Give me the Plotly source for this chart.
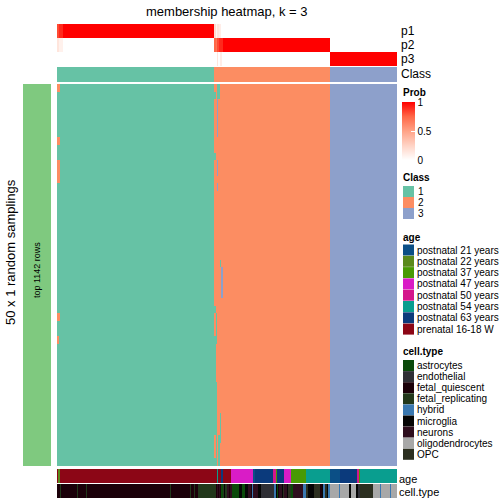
import plotly.graph_objects as go

W = H = 504
FONT = "Liberation Sans, Arial, Helvetica, sans-serif"

# ---------------- data ----------------
N_COLS = 340
N_ROWS = 50

class_labels = ["1", "2", "3"]
class_colors = ["#66C2A5", "#FC8D62", "#8DA0CB"]
class_runs = [(1, 157), (2, 116), (3, 67)]

# membership probabilities (value, run length) per column
p1_runs = [(0.82, 2), (0.9, 4), (1.0, 151), (0.2, 2), (0.05, 1), (0.15, 2), (0.1, 2), (0.0, 176)]
p2_runs = [(0.15, 2), (0.08, 4), (0.0, 151), (0.75, 2), (0.7, 1), (0.82, 2), (0.9, 4), (1.0, 107), (0.0, 67)]
p3_runs = [(0.0, 160), (0.15, 1), (0.0, 2), (0.1, 2), (0.0, 108), (1.0, 67)]

# deviations of individual samplings from the consensus class: (row_from, row_to, col_from, col_to, class)
main_deviations = [
    (0, 0, 0, 2, 2), (0, 1, 160, 162, 1), (1, 1, 157, 158, 1),
    (2, 6, 160, 160, 3), (7, 7, 0, 2, 2), (9, 9, 157, 158, 1),
    (10, 11, 160, 160, 3), (10, 12, 0, 2, 2), (13, 13, 160, 160, 3),
    (23, 23, 163, 163, 1), (24, 27, 164, 165, 3), (29, 29, 157, 158, 1),
    (30, 32, 159, 159, 1), (30, 30, 0, 2, 2), (33, 33, 157, 159, 1),
    (33, 33, 0, 1, 2), (34, 38, 157, 158, 1), (39, 45, 157, 159, 1),
    (43, 46, 163, 163, 1), (46, 48, 159, 159, 1), (46, 49, 161, 162, 1),
    (49, 49, 157, 159, 1),
]

age_labels = ["postnatal 21 years", "postnatal 22 years", "postnatal 37 years",
              "postnatal 47 years", "postnatal 50 years", "postnatal 54 years",
              "postnatal 63 years", "prenatal 16-18 W"]
age_colors = ["#0B4F86", "#5A8A1C", "#489A04", "#D91CC6", "#D4168C", "#099E8F",
              "#0B3A7C", "#8C0616"]
age_runs = [(7, 1), (1, 2), (7, 157), (5, 1), (7, 3), (6, 2), (7, 8), (3, 22), (0, 2),
            (6, 18), (4, 3), (2, 1), (6, 7), (3, 7), (2, 15), (5, 24), (0, 10), (6, 17),
            (4, 2), (2, 1), (5, 37)]

cell_labels = ["astrocytes", "endothelial", "fetal_quiescent", "fetal_replicating",
               "hybrid", "microglia", "neurons", "oligodendrocytes", "OPC"]
cell_colors = ["#0A4A0A", "#2F2F35", "#1B0009", "#22381B", "#3A78B0", "#050505",
               "#2E0E1E", "#A8A8A8", "#2C2F20"]
cell_runs = [(2, 3), (3, 1), (2, 16), (3, 1), (2, 8), (3, 1), (2, 83), (3, 1), (2, 19),
             (3, 1), (2, 3), (3, 1), (2, 3), (3, 18), (2, 1), (6, 1), (2, 1), (6, 1),
             (2, 1), (0, 2), (3, 1), (5, 1), (3, 2), (6, 2), (2, 1), (6, 2), (0, 7),
             (5, 3), (0, 3), (5, 3), (6, 3), (2, 1), (4, 1), (6, 5), (5, 3), (1, 13),
             (4, 2), (5, 1), (0, 1), (2, 1), (6, 3), (5, 1), (8, 1), (6, 3), (5, 1),
             (8, 2), (3, 1), (0, 2), (6, 10), (4, 3), (8, 2), (5, 6), (8, 6), (2, 2),
             (5, 1), (4, 2), (8, 2), (5, 1), (4, 2), (7, 9), (4, 1), (7, 9), (5, 2),
             (7, 5), (5, 2), (1, 2), (8, 13), (7, 7), (4, 1), (7, 9), (4, 1), (7, 6)]

title_text = "membership heatmap, k = 3"
row_title = "50 x 1 random samplings"
slice_title = "top 1142 rows"


# ---------------- helpers ----------------
def expand(runs):
    out = []
    for v, n in runs:
        out.extend([v] * n)
    return out


def discrete_scale(colors):
    n = len(colors)
    sc = []
    for i, c in enumerate(colors):
        sc.append([i / n, c])
        sc.append([(i + 1) / n, c])
    return sc


def X(px):
    return px / W


def Y(py):
    return 1 - py / H


p1 = expand(p1_runs)
p2 = expand(p2_runs)
p3 = expand(p3_runs)
cls = expand(class_runs)
age = expand(age_runs)
cell = expand(cell_runs)

main = [list(cls) for _ in range(N_ROWS)]
for r0, r1, c0, c1, k in main_deviations:
    for r in range(r0, r1 + 1):
        for c in range(c0, c1 + 1):
            main[r][c] = k

cols = list(range(N_COLS))
prob_scale = [[0, "#FFFFFF"], [0.25, "#FFD3C5"], [0.5, "#FFA286"],
              [0.75, "#FF6747"], [1, "#FF0000"]]

fig = go.Figure()

X0, X1 = 57, 397
# (name, top, bottom)
panels = [("prob", 24, 66), ("class", 67, 82), ("main", 84, 466),
          ("age", 469, 483), ("cell", 484, 498)]

for i, (name, top, bot) in enumerate(panels):
    sfx = "" if i == 0 else str(i + 1)
    fig.layout["xaxis" + sfx] = dict(domain=[X(X0), X(X1)], range=[-0.5, N_COLS - 0.5],
                                     visible=False, anchor="y" + sfx, fixedrange=True)
    fig.layout["yaxis" + sfx] = dict(domain=[Y(bot), Y(top)], visible=False,
                                     anchor="x" + sfx, autorange="reversed", fixedrange=True)

# prob rows
fig.add_trace(go.Heatmap(
    z=[p1, p2, p3], x=cols, y=[0, 1, 2], zmin=0, zmax=1, colorscale=prob_scale,
    xaxis="x", yaxis="y", hoverinfo="skip",
    colorbar=dict(x=X(402), xanchor="left", y=Y(102), yanchor="top",
                  len=58 / H, lenmode="fraction", thickness=13, thicknessmode="pixels",
                  outlinewidth=0, xpad=0, ypad=0, tickvals=[0, 0.5, 1],
                  ticktext=["0", "0.5", "1"], ticks="inside", ticklen=4,
                  tickcolor="white", tickfont=dict(family=FONT, size=10, color="black")),
))

# class row
fig.add_trace(go.Heatmap(z=[cls], x=cols, y=[0], zmin=0.5, zmax=3.5,
                         colorscale=discrete_scale(class_colors), showscale=False,
                         xaxis="x2", yaxis="y2", hoverinfo="skip"))
# main
fig.add_trace(go.Heatmap(z=main, x=cols, y=list(range(N_ROWS)), zmin=0.5, zmax=3.5,
                         colorscale=discrete_scale(class_colors), showscale=False,
                         xaxis="x3", yaxis="y3", hoverinfo="skip"))
# age
fig.add_trace(go.Heatmap(z=[age], x=cols, y=[0], zmin=-0.5, zmax=len(age_labels) - 0.5,
                         colorscale=discrete_scale(age_colors), showscale=False,
                         xaxis="x4", yaxis="y4", hoverinfo="skip"))
# cell type
fig.add_trace(go.Heatmap(z=[cell], x=cols, y=[0], zmin=-0.5, zmax=len(cell_labels) - 0.5,
                         colorscale=discrete_scale(cell_colors), showscale=False,
                         xaxis="x5", yaxis="y5", hoverinfo="skip"))

shapes = []
annotations = []


def text(x, y, s, size=10, xanchor="left", textangle=0):
    annotations.append(dict(x=X(x), y=Y(y), xref="paper", yref="paper", text=s,
                            showarrow=False, xanchor=xanchor, yanchor="middle",
                            textangle=textangle, borderpad=0,
                            font=dict(family=FONT, size=size, color="black")))


def rect(x0, y0, x1, y1, color):
    shapes.append(dict(type="rect", xref="paper", yref="paper", x0=X(x0), x1=X(x1),
                       y0=Y(y1), y1=Y(y0), fillcolor=color, line=dict(width=0),
                       layer="below"))


# left slice bar
rect(23, 84, 51, 466, "#7FC97F")
text(37, 270, slice_title, size=9, xanchor="center", textangle=-90)
text(10, 252, row_title, size=13, xanchor="center", textangle=-90)

# title
text(227, 11, title_text, size=13, xanchor="center")

# row labels on the right
text(400, 31, "p1", size=12)
text(400, 45, "p2", size=12)
text(400, 59, "p3", size=12)
text(400, 74, "Class", size=12)
text(398, 479, "age", size=11)
text(398, 492, "cell.type", size=11)

# legends
text(402, 92, "<b>Prob</b>", size=10)

text(402, 177, "<b>Class</b>", size=10)
for i, (lab, col) in enumerate(zip(class_labels, class_colors)):
    y0 = 186 + 11 * i
    rect(403, y0, 414, y0 + 11, col)
    text(417, y0 + 5.5, lab, size=10)

text(402, 237, "<b>age</b>", size=10)
for i, (lab, col) in enumerate(zip(age_labels, age_colors)):
    y0 = 244.5 + 11.3 * i
    rect(403, y0, 414, y0 + 11, col)
    text(416, y0 + 5.5, lab, size=10)

text(402, 351, "<b>cell.type</b>", size=10)
for i, (lab, col) in enumerate(zip(cell_labels, cell_colors)):
    y0 = 360 + 11.1 * i
    rect(403, y0, 414, y0 + 11, col)
    text(416, y0 + 5.5, lab, size=10)

fig.update_layout(width=W, height=H,
                  margin=dict(l=0, r=0, t=0, b=0, pad=0, autoexpand=False),
                  paper_bgcolor="white", plot_bgcolor="white", showlegend=False,
                  shapes=shapes, annotations=annotations)

fig.write_html("out.html", config={"displayModeBar": False},
               post_script="document.body.style.margin='0px';")
